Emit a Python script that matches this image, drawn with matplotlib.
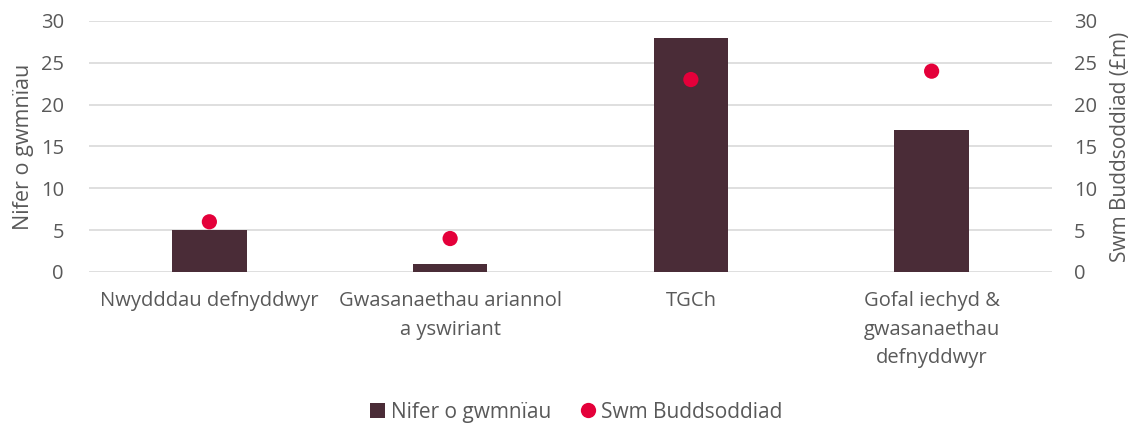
import matplotlib
matplotlib.use("Agg")
import matplotlib.pyplot as plt
from matplotlib.lines import Line2D
from matplotlib.patches import Patch

categories = ["Nwydddau defnyddwyr", "Gwasanaethau ariannol\na yswiriant", "TGCh",
              "Gofal iechyd &\ngwasanaethau\ndefnyddwyr"]
companies = [5, 1, 28, 17]
investment = [6, 4, 23, 24]
ticks = [0, 5, 10, 15, 20, 25, 30]

bar_color = "#4A2C37"
dot_color = "#E4003A"
text_color = "#595959"
grid_color = "#D9D9D9"

plt.rcParams['font.family'] = ['Open Sans', 'DejaVu Sans']

fig = plt.figure(figsize=(11.41, 4.28), dpi=100)
ax = fig.add_axes([0.078, 0.3645, 0.844, 0.5865])
x = list(range(len(categories)))
ax.bar(x, companies, width=0.31, color=bar_color, zorder=2)
ax.set_xlim(-0.5, len(categories) - 0.5)
ax.set_ylim(0, 30)
ax.set_yticks(ticks)
ax.yaxis.grid(True, color=grid_color, linewidth=1.2, zorder=0)
ax.set_axisbelow(True)
for s in ax.spines.values():
    s.set_visible(False)
ax.tick_params(axis='both', length=0, labelsize=14.5, colors=text_color, pad=18)
ax.set_xticks(x)
ax.set_xticklabels(categories, linespacing=1.55, va='top')
ax.tick_params(axis='x', pad=14)
ax.set_ylabel("Nifer o gwmnïau", fontsize=15.5, color=text_color, labelpad=5)

ax2 = ax.twinx()
ax2.set_ylim(0, 30)
ax2.set_yticks(ticks)
ax2.scatter(x, investment, s=120, color=dot_color, zorder=3, edgecolors='none')
for s in ax2.spines.values():
    s.set_visible(False)
ax2.tick_params(axis='y', length=0, labelsize=14.5, colors=text_color, pad=16)
ax2.set_ylabel("Swm Buddsoddiad (£m)", fontsize=15, color=text_color, labelpad=9)

handles = [Patch(facecolor=bar_color, edgecolor='none'),
           Line2D([], [], marker='o', linestyle='none', markersize=11,
                  markerfacecolor=dot_color, markeredgecolor='none')]
fig.legend(handles, ["Nifer o gwmnïau", "Swm Buddsoddiad"], loc='center',
           bbox_to_anchor=(0.505, 0.037), ncol=2, frameon=False, fontsize=15,
           labelcolor=text_color, handlelength=0.7, handleheight=0.7,
           handletextpad=0.3, columnspacing=1.4)

fig.savefig("out.png", dpi=100)
